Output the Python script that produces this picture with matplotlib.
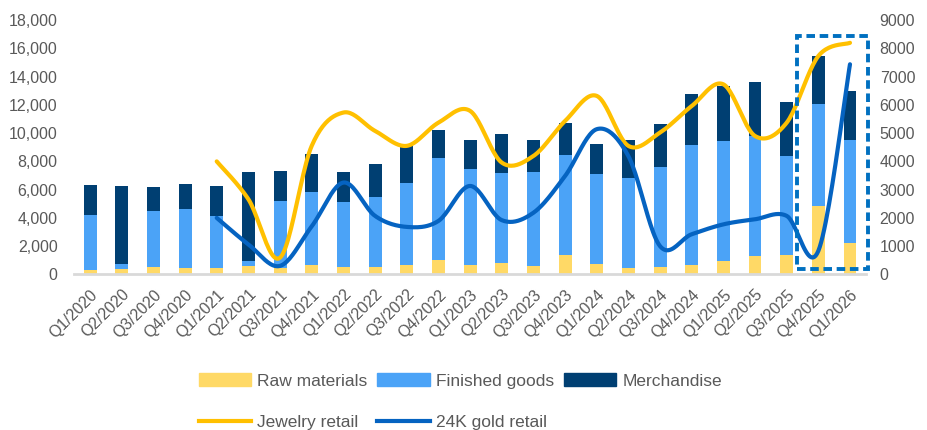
import numpy as np
import matplotlib.pyplot as plt
from matplotlib.patches import Patch, Rectangle
from matplotlib.lines import Line2D
from matplotlib.ticker import FuncFormatter, MultipleLocator

plt.rcParams['font.family'] = ['Liberation Sans', 'DejaVu Sans']

quarters = [
    "Q1/2020", "Q2/2020", "Q3/2020", "Q4/2020",
    "Q1/2021", "Q2/2021", "Q3/2021", "Q4/2021",
    "Q1/2022", "Q2/2022", "Q3/2022", "Q4/2022",
    "Q1/2023", "Q2/2023", "Q3/2023", "Q4/2023",
    "Q1/2024", "Q2/2024", "Q3/2024", "Q4/2024",
    "Q1/2025", "Q2/2025", "Q3/2025", "Q4/2025",
    "Q1/2026",
]

# stacked inventory components (left axis)
raw_materials = [280, 400, 520, 450, 430, 570, 450, 660, 540, 540, 690, 990,
                 640, 780, 590, 1350, 760, 450, 540, 660, 920, 1280, 1350, 4820, 2200]
finished_goods = [3920, 360, 3970, 4150, 3680, 350, 4720, 5200, 4560, 4960, 5780, 7230,
                  6850, 6380, 6690, 7110, 6350, 6400, 7040, 8480, 8510, 8500, 7040, 7230, 7320]
merchandise = [2130, 5500, 1700, 1780, 2130, 6330, 2130, 2640, 2150, 2300, 2600, 2030,
               2010, 2790, 2220, 2270, 2150, 2650, 3050, 3640, 3920, 3820, 3820, 3450, 3450]

# retail lines (right axis), data begins at Q1/2021
jewelry_retail = [None, None, None, None,
                  4000, 2660, 590, 4550, 5730, 5080, 4550, 5370, 5790, 3960, 4190,
                  5430, 6320, 4550, 5020, 5960, 6730, 4900, 5370, 7730, 8200]
gold_24k_retail = [None, None, None, None,
                   2000, 1060, 300, 1700, 3250, 2070, 1680, 1890, 3130, 1920, 2180,
                   3480, 5140, 4190, 1000, 1420, 1770, 1950, 2070, 830, 7440]

C_RAW = "#FFD966"
C_FIN = "#4BA3F7"
C_MER = "#003F72"
C_JEW = "#FFC000"
C_GOLD = "#0563C1"
C_TXT = "#595959"


def smooth(xs, ys, n=24):
    # bezier smoothing through every point, like spreadsheet "smoothed line"
    pts = np.column_stack([xs, ys]).astype(float)
    out = []
    for i in range(len(pts) - 1):
        p0 = pts[i - 1] if i > 0 else pts[i]
        p1 = pts[i]
        p2 = pts[i + 1]
        p3 = pts[i + 2] if i + 2 < len(pts) else pts[i + 1]
        c1 = p1 + (p2 - p0) / 6
        c2 = p2 - (p3 - p1) / 6
        t = np.linspace(0, 1, n)[:, None]
        seg = ((1 - t) ** 3) * p1 + 3 * ((1 - t) ** 2) * t * c1 \
            + 3 * (1 - t) * t ** 2 * c2 + t ** 3 * p2
        out.append(seg if i == 0 else seg[1:])
    out = np.vstack(out)
    return out[:, 0], out[:, 1]


x = np.arange(len(quarters))
raw = np.array(raw_materials)
fin = np.array(finished_goods)
mer = np.array(merchandise)

fig = plt.figure(figsize=(9.28, 4.30), dpi=100)
ax = fig.add_axes([0.080, 0.362, 0.853, 0.591])

w = 0.41
ax.bar(x, raw, w, color=C_RAW, zorder=2)
ax.bar(x, fin, w, bottom=raw, color=C_FIN, zorder=2)
ax.bar(x, mer, w, bottom=raw + fin, color=C_MER, zorder=2)

ax.set_xlim(-0.5, len(quarters) - 0.5)
ax.set_ylim(0, 18000)
ax.yaxis.set_major_locator(MultipleLocator(2000))
ax.yaxis.set_major_formatter(FuncFormatter(lambda v, p: f"{v:,.0f}"))
ax.set_xticks(x)
ax.set_xticklabels(quarters, rotation=45, ha="right", rotation_mode="anchor")
ax.tick_params(axis="x", length=0, pad=9, labelsize=11.5, labelcolor=C_TXT)
ax.tick_params(axis="y", length=0, pad=12, labelsize=11.5, labelcolor=C_TXT)
for s in ["top", "right", "left"]:
    ax.spines[s].set_visible(False)
ax.spines["bottom"].set_color("#D9D9D9")
ax.spines["bottom"].set_linewidth(2)

ax2 = ax.twinx()
ax2.set_ylim(0, 9000)
ax2.yaxis.set_major_locator(MultipleLocator(1000))
ax2.yaxis.set_major_formatter(FuncFormatter(lambda v, p: f"{v:.0f}"))
ax2.tick_params(axis="y", length=0, pad=10, labelsize=11.5, labelcolor=C_TXT)
for s in ax2.spines.values():
    s.set_visible(False)

for vals, col in [(jewelry_retail, C_JEW), (gold_24k_retail, C_GOLD)]:
    idx = [i for i, v in enumerate(vals) if v is not None]
    sx, sy = smooth(x[idx], [vals[i] for i in idx])
    ax2.plot(sx, sy, color=col, lw=3, solid_capstyle="round", zorder=3)

# highlight box around the latest two quarters
ax2.add_patch(Rectangle((22.34, 180), 2.22, 8260, fill=False,
                        edgecolor="#0070C0", lw=2.8, ls=(0, (2.2, 1.2)),
                        zorder=4, clip_on=False))

handles = [
    Patch(color=C_RAW, label="Raw materials"),
    Line2D([], [], color=C_JEW, lw=3, label="Jewelry retail"),
    Patch(color=C_FIN, label="Finished goods"),
    Line2D([], [], color=C_GOLD, lw=3, label="24K gold retail"),
    Patch(color=C_MER, label="Merchandise"),
]
fig.legend(handles=handles, ncol=3, loc="center", bbox_to_anchor=(0.496, 0.066),
           frameon=False, fontsize=12.5, labelcolor=C_TXT, handlelength=3.0,
           handletextpad=0.35, columnspacing=0.6, labelspacing=1.5,
           handleheight=0.7, borderpad=0.2)

fig.savefig("out.png", dpi=100)
